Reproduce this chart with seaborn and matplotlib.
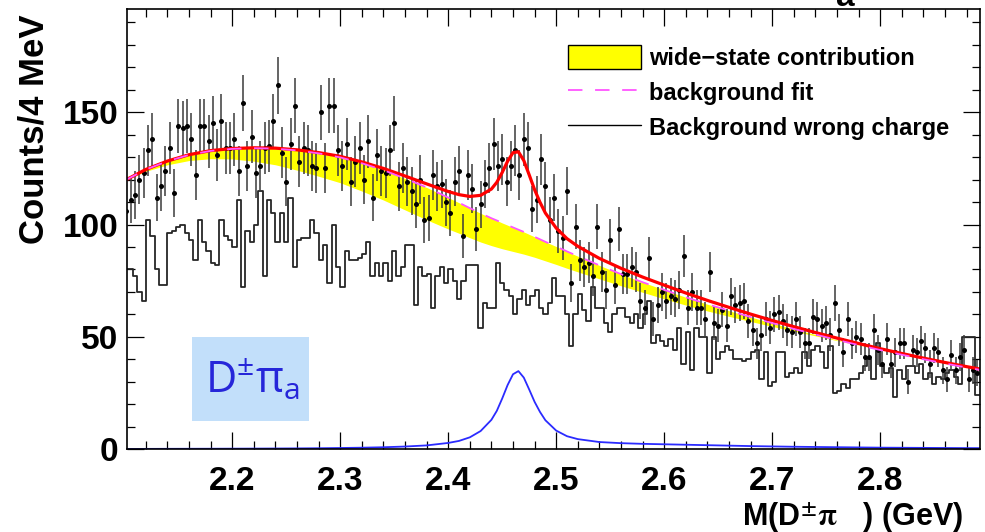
import numpy as np
import pandas as pd
import matplotlib
matplotlib.use("Agg")
import matplotlib.pyplot as plt
from matplotlib.patches import Patch, Rectangle
from matplotlib.lines import Line2D
from matplotlib.ticker import MultipleLocator, FormatStrFormatter
import seaborn as sns

# ---- binning of the D±π invariant-mass spectrum (4 MeV bins) ----
bin_lo = 2.1
bin_width = 0.004
n_bins = 198

# right-charge candidates per bin
counts = [
    106, 111, 113, 120, 123, 133, 138, 112, 117, 124,
    134, 114, 144, 143, 144, 138, 122, 144, 144, 137,
    145, 131, 146, 134, 134, 138, 124, 154, 126, 139,
    123, 126, 134, 135, 146, 162, 132, 119, 136, 153,
    128, 134, 133, 126, 125, 150, 125, 153, 153, 133,
    126, 136, 119, 128, 134, 120, 137, 112, 131, 124,
    123, 133, 145, 117, 125, 119, 115, 109, 120, 102,
    103, 122, 117, 118, 110, 105, 119, 124, 95, 122,
    116, 98, 109, 118, 125, 136, 126, 129, 119, 126,
    133, 122, 138, 134, 107, 111, 129, 117, 102, 112,
    97, 94, 115, 74, 99, 84, 81, 83, 77, 99,
    79, 71, 93, 73, 98, 78, 78, 81, 79, 66,
    63, 85, 58, 64, 70, 66, 68, 67, 71, 86,
    63, 70, 63, 63, 58, 79, 56, 55, 62, 55,
    68, 64, 65, 66, 57, 53, 47, 51, 58, 54,
    60, 61, 57, 53, 52, 58, 52, 47, 47, 59,
    58, 55, 56, 51, 65, 53, 43, 58, 47, 50,
    49, 41, 41, 53, 44, 38, 49, 38, 43, 47,
    47, 30, 44, 43, 48, 45, 38, 45, 43, 35,
    31, 42, 35, 41, 44, 31, 35, 34,
]

# wrong-charge background per bin
wrong_charge = [
    80, 80, 77, 70, 66, 102, 95, 80, 73, 73,
    96, 97, 99, 100, 96, 93, 84, 102, 92, 88,
    83, 82, 102, 95, 93, 90, 111, 72, 97, 92,
    100, 115, 77, 111, 105, 92, 105, 92, 112, 81,
    93, 94, 94, 102, 96, 84, 91, 74, 100, 81,
    72, 88, 84, 84, 85, 87, 92, 77, 83, 77,
    83, 75, 88, 77, 81, 91, 91, 64, 81, 77,
    78, 63, 77, 81, 74, 80, 75, 67, 75, 82,
    82, 82, 54, 65, 63, 63, 83, 74, 71, 68,
    60, 67, 71, 64, 68, 71, 63, 60, 65, 76,
    68, 68, 60, 46, 60, 69, 62, 57, 72, 63,
    63, 56, 52, 60, 63, 63, 59, 56, 60, 54,
    60, 66, 47, 51, 48, 46, 49, 44, 54, 38,
    52, 35, 54, 50, 50, 34, 50, 40, 43, 46,
    44, 40, 40, 39, 40, 43, 44, 31, 43, 28,
    30, 43, 43, 32, 34, 36, 34, 43, 37, 44,
    46, 43, 36, 46, 25, 26, 29, 27, 31, 31,
    34, 37, 40, 31, 47, 37, 34, 36, 23, 35,
    31, 37, 37, 34, 38, 31, 34, 29, 32, 31,
    34, 35, 32, 29, 50, 50, 50, 24,
]

# ---- fit components sampled along the mass axis (GeV) ----
curve_mass = [
    2.100, 2.120, 2.140, 2.160, 2.180, 2.200, 2.220, 2.240, 2.260, 2.280,
    2.300, 2.320, 2.340, 2.360, 2.380, 2.400, 2.410, 2.420, 2.430, 2.440,
    2.445, 2.450, 2.455, 2.460, 2.465, 2.470, 2.475, 2.480, 2.485, 2.490,
    2.500, 2.510, 2.520, 2.540, 2.560, 2.580, 2.600, 2.620, 2.640, 2.660,
    2.680, 2.700, 2.720, 2.740, 2.760, 2.780, 2.800, 2.820, 2.840, 2.860,
    2.880, 2.900,
]
background_fit = [
    119.5, 124.5, 128.2, 131.0, 132.8, 133.7, 134.0, 133.8, 133.0, 131.7,
    129.9, 127.3, 124.2, 120.5, 116.5, 112.0, 109.7, 107.3, 105.0, 102.8,
    101.8, 100.7, 99.7, 98.7, 97.7, 96.7, 95.6, 94.5, 93.4, 92.3,
    90.2, 88.0, 85.9, 81.8, 77.9, 74.3, 70.9, 67.6, 64.5, 61.6,
    58.8, 56.1, 53.5, 51.0, 48.6, 46.3, 44.1, 42.0, 40.0, 38.1,
    36.3, 34.6,
]
signal_peak = [
    0.0, 0.05, 0.08, 0.10, 0.12, 0.15, 0.18, 0.22, 0.27, 0.34,
    0.45, 0.58, 0.78, 1.1, 1.6, 2.7, 3.6, 5.2, 8.0, 13.0,
    17.0, 22.5, 28.5, 33.3, 34.7, 31.8, 26.5, 21.0, 16.5, 12.8,
    8.2, 5.7, 4.4, 3.1, 2.6, 2.3, 2.1, 1.9, 1.7, 1.5,
    1.3, 1.15, 1.0, 0.9, 0.8, 0.7, 0.6, 0.55, 0.5, 0.45,
    0.4, 0.38,
]
wide_state = [
    0.0, 0.8, 1.6, 2.5, 3.5, 4.5, 5.8, 7.2, 8.8, 10.2,
    11.3, 12.4, 13.3, 14.0, 14.4, 14.0, 13.6, 13.2, 12.8, 12.2,
    11.9, 11.5, 11.1, 10.7, 10.3, 9.9, 9.5, 9.1, 8.8, 8.5,
    8.0, 7.5, 7.0, 6.0, 5.2, 4.5, 4.0, 3.5, 3.0, 2.5,
    2.0, 1.5, 1.0, 0.6, 0.3, 0.1, 0.0, 0.0, 0.0, 0.0,
    0.0, 0.0,
]

x_ticks_label_fmt = "%.1f"
legend_labels = ["wide\u2212state contribution", "background fit",
                 "Background wrong charge"]

# ---- style ----
sns.set_theme(style="ticks")
plt.rcParams["font.family"] = ["Liberation Sans", "DejaVu Sans"]
plt.rcParams["font.weight"] = "bold"
plt.rcParams["mathtext.fontset"] = "stix"
plt.rcParams["axes.edgecolor"] = "black"
plt.rcParams["xtick.color"] = "black"
plt.rcParams["ytick.color"] = "black"
plt.rcParams["text.color"] = "black"

W, H = 985, 532
fig = plt.figure(figsize=(W / 100, H / 100), dpi=100)
ax = fig.add_axes([127 / W, 1 - 449 / H, 853 / W, 440 / H])

edges = bin_lo + bin_width * np.arange(n_bins + 1)
centers = edges[:-1] + bin_width / 2
counts_arr = np.asarray(counts, dtype=float)
mass = np.asarray(curve_mass)
bg = np.asarray(background_fit)
sig = np.asarray(signal_peak)
wide = np.asarray(wide_state)

hist_df = pd.DataFrame({"mass": centers, "entries": wrong_charge})
data_df = pd.DataFrame({"mass": centers, "entries": counts_arr})
fit_df = pd.DataFrame({"mass": mass, "total": bg + sig, "background": bg,
                       "signal": sig})

# wide-state band just beneath the background fit
ax.fill_between(mass, bg - wide, bg, color="#ffff00", lw=0, zorder=1)

# wrong-charge histogram
sns.histplot(data=hist_df, x="mass", weights="entries", bins=list(edges),
             element="step", fill=False, color="#262626", linewidth=1.3,
             ax=ax, zorder=2)

# data with Poisson errors
ax.errorbar(centers, counts_arr, yerr=np.sqrt(counts_arr), fmt="none",
            ecolor="#3a3a3a", elinewidth=1.1, capsize=0, zorder=3)
sns.scatterplot(data=data_df, x="mass", y="entries", color="black", s=13,
                linewidth=0, ax=ax, zorder=4)

# total fit, background fit and signal component
sns.lineplot(data=fit_df, x="mass", y="total", color="#ff0000",
             linewidth=2.3, ax=ax, zorder=5)
sns.lineplot(data=fit_df, x="mass", y="background", color="#ff55ff",
             linewidth=1.3, ax=ax, zorder=6)
ax.lines[-1].set_dashes([8, 7])
sns.lineplot(data=fit_df, x="mass", y="signal", color="#2b2bff",
             linewidth=1.3, ax=ax, zorder=6)

ax.set_xlim(2.1025, 2.8925)
ax.set_ylim(0, 196)
ax.set_xlabel("")
ax.set_ylabel("")

ax.xaxis.set_major_locator(MultipleLocator(0.1))
ax.xaxis.set_minor_locator(MultipleLocator(0.02))
ax.xaxis.set_major_formatter(FormatStrFormatter(x_ticks_label_fmt))
ax.yaxis.set_major_locator(MultipleLocator(50))
ax.yaxis.set_minor_locator(MultipleLocator(10))
ax.tick_params(which="both", direction="in", top=True, right=True,
               width=0.9, color="black")
ax.tick_params(which="major", length=12)
ax.tick_params(which="minor", length=6)
ax.tick_params(axis="x", which="major", labelsize=24, pad=12)
ax.tick_params(axis="y", which="major", labelsize=24, pad=6)
for spine in ax.spines.values():
    spine.set_visible(True)
    spine.set_linewidth(1.2)
    spine.set_color("black")
    spine.set_zorder(7)

# legend
handles = [
    Patch(facecolor="#ffff00", edgecolor="black", linewidth=1.0),
    Line2D([], [], color="#ff55ff", linewidth=1.3, dashes=[8, 7]),
    Line2D([], [], color="black", linewidth=1.0),
]
ax.legend(handles, legend_labels, loc="upper left",
          bbox_to_anchor=(0.517, 0.918), frameon=False, fontsize=17,
          handlelength=3.1, handleheight=1.15, handletextpad=0.35,
          labelspacing=0.44, borderpad=0, borderaxespad=0)

# axis titles
fig.text(34 / W, 1 - 14 / H, "Counts/4 MeV", rotation=90, ha="center",
         va="top", fontsize=25, fontweight="bold")
fig.text(963 / W, 1 - 526 / H, "M(D$^{\\pm}\\mathrm{\\pi}$   ) (GeV)",
         ha="right", va="baseline", fontsize=22, fontweight="bold")

# channel tag
fig.add_artist(Rectangle((192 / W, 1 - 421 / H), 117 / W, 84 / H,
                         transform=fig.transFigure, facecolor="#c2dffa",
                         edgecolor="none", zorder=8))
fig.text(205 / W, 1 - 393 / H, "$\\mathregular{D^{\\pm}\\pi_{a}}$",
         fontsize=31, color="#2626d9", family=["Open Sans", "DejaVu Sans"],
         fontweight="normal", va="baseline", ha="left", zorder=9)

# subscript of the panel title, cut by the top edge
fig.text(845 / W, 1 - 6 / H, "a", ha="center", va="baseline", fontsize=24,
         fontweight="bold")

fig.savefig("out.png", dpi=100)
